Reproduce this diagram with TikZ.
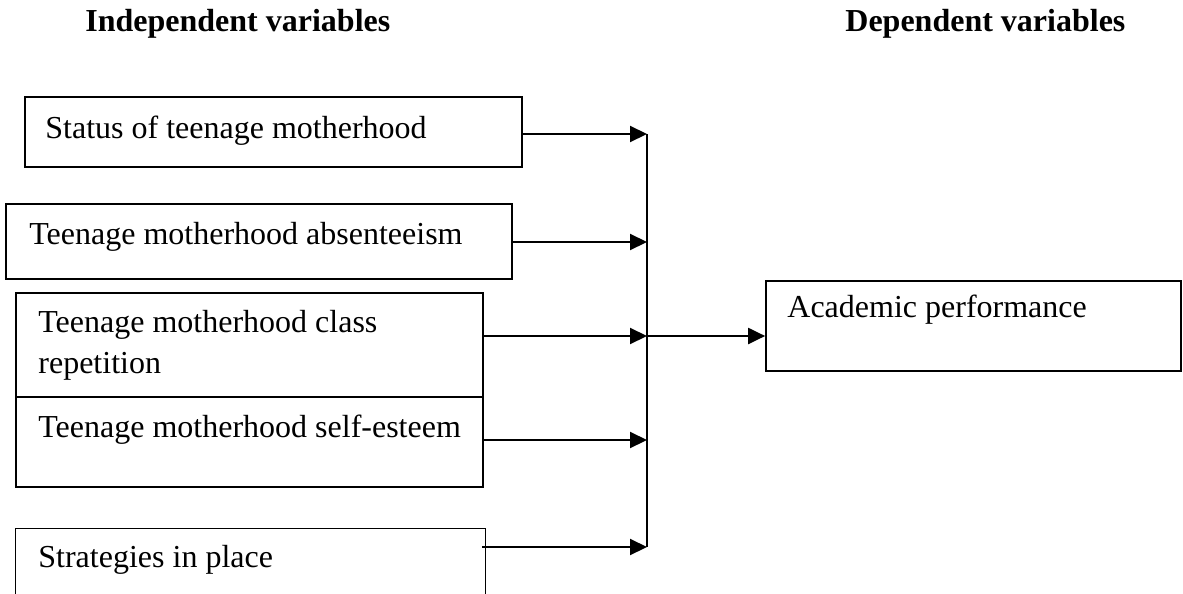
\documentclass[tikz,border=0pt]{standalone}
\usepackage{fontspec}
\setmainfont{Liberation Serif}
\usetikzlibrary{arrows.meta,fit}
\begin{document}
\begin{tikzpicture}[x=0.5pt,y=-0.5pt,
  every node/.style={font=\fontsize{16}{20}\selectfont},
  box/.style={draw=black,line width=0.85pt,inner sep=0pt},
  txt/.style={anchor=base west,inner sep=0pt},
  head/.style={anchor=base west,inner sep=0pt,font=\fontsize{16}{20}\selectfont\bfseries},
  arr/.style={line width=1.05pt,-{Triangle[length=8.5pt,width=8pt]}},
  vline/.style={line width=0.85pt}]
\useasboundingbox (0,0) rectangle (1183,594);
% headings
\node[head] (h1) at (85,32) {Independent variables};
\node[head] (h2) at (845,32) {Dependent variables};
% boxes
\node[box,fit={(25,97) (522,167)}] (b1) {};
\node[box,fit={(6,204) (512,279)}] (b2) {};
\node[box,fit={(16,293) (483,397)}] (b3) {};
\node[box,fit={(16,397) (483,487)}] (b4) {};
\node[inner sep=0pt,fit={(16,529) (485,594)}] (b5) {};
\draw[line width=0.85pt] (b5.south west) |- (b5.north east) -- (b5.south east);
\node[box,fit={(766,281) (1181,371)}] (acad) {};
% texts
\node[txt] (t1) at (45,138) {Status of teenage motherhood};
\node[txt] (t2) at (29,244) {Teenage motherhood absenteeism};
\node[txt] (t3a) at (38,332) {Teenage motherhood class};
\node[txt] (t3b) at (38,373) {repetition};
\node[txt] (t4) at (38,437) {Teenage motherhood self-esteem};
\node[txt] (t5) at (38,567) {Strategies in place};
\node[txt] (ta) at (787,317) {Academic performance};
% junction coordinates
\coordinate (v1) at (647,134);
\coordinate (v2) at (647,242);
\coordinate (v3) at (647,336);
\coordinate (v4) at (647,440);
\coordinate (v5) at (647,547);
\draw[vline] (v1) -- (v5);
\draw[arr] (b1.east |- v1) -- (v1);
\draw[arr] (b2.east |- v2) -- (v2);
\draw[arr] (b3.east |- v3) -- (v3);
\draw[arr] (b4.east |- v4) -- (v4);
\draw[arr] ([xshift=-1.5pt]b5.east |- v5) -- (v5);
\draw[arr] (v3) -- (acad.west |- v3);
\end{tikzpicture}
\end{document}
